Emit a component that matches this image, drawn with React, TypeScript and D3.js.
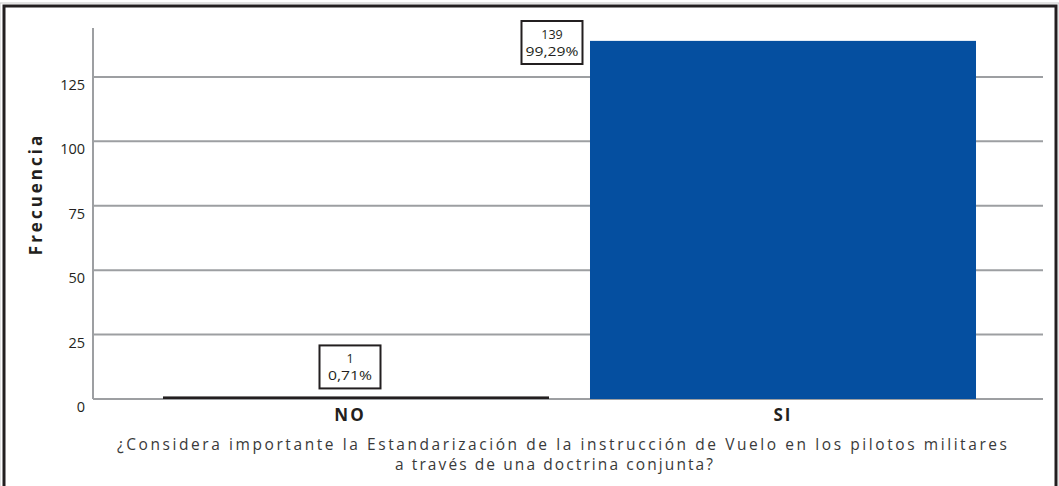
import React from "react";
import * as d3 from "d3";

const categories = ["NO", "SI"];
const counts = [1, 139];
const percents = ["0,71%", "99,29%"];
const yTicks = [0, 25, 50, 75, 100, 125];
const titleLines = [
  "¿Considera importante la Estandarización de la instrucción de Vuelo en los pilotos militares",
  "a través de una doctrina conjunta?",
];

const W = 1059;
const H = 486;
const plot = { left: 93, right: 1043, top: 28, bottom: 399 };
const textColor = "#231f20";
const gridColor = "#9d9fa2";
const barColors = ["#231f20", "#054fa0"];
const font = "'Open Sans', 'DejaVu Sans', sans-serif";

const App = () => {
  const x = d3
    .scaleBand<string>()
    .domain(categories)
    .range([142.5, 996.5])
    .paddingInner(0.096)
    .paddingOuter(0.048);

  const y = d3.scaleLinear().domain([0, 144]).range([plot.bottom, plot.top]);

  return (
    <svg
      width={W}
      height={H}
      style={{ position: "absolute", left: 0, top: 0, background: "#fff" }}
      fontFamily={font}
    >
      {/* frame */}
      <rect x={0} y={3} width={W} height={H} fill="none" stroke="#c8c8c8" strokeWidth={1} />
      <rect x={4} y={6} width={1052} height={H} fill="none" stroke={textColor} strokeWidth={3} />

      {/* gridlines */}
      {yTicks.map((t) => (
        <g key={t}>
          <line
            x1={plot.left}
            x2={plot.right}
            y1={y(t)}
            y2={y(t)}
            stroke={gridColor}
            strokeWidth={2}
          />
          <text
            x={85}
            y={y(t) + 13}
            textAnchor="end"
            fontSize={14.5}
            fill={textColor}
          >
            {t}
          </text>
        </g>
      ))}
      <line
        x1={plot.left}
        x2={plot.left}
        y1={plot.top}
        y2={plot.bottom}
        stroke={gridColor}
        strokeWidth={2}
      />

      {/* bars */}
      {categories.map((c, i) => (
        <rect
          key={c}
          x={x(c)}
          y={y(counts[i])}
          width={x.bandwidth()}
          height={plot.bottom - y(counts[i])}
          fill={barColors[i]}
        />
      ))}

      {/* value labels */}
      {categories.map((c, i) => {
        const bw = 61;
        const bh = 43;
        const cx = i === 0 ? x(c)! + x.bandwidth() / 2 - 6 : x(c)! - 38;
        const bottom = i === 0 ? y(counts[i]) - 8 : 64;
        return (
          <g key={c}>
            <rect
              x={cx - bw / 2}
              y={bottom - bh}
              width={bw}
              height={bh}
              fill="#fff"
              stroke={textColor}
              strokeWidth={2}
            />
            <text x={cx} y={bottom - 25} textAnchor="middle" fontSize={12.5} fill={textColor}>
              {counts[i]}
            </text>
            <text
              x={cx}
              y={bottom - 8}
              textAnchor="middle"
              fontSize={12.5}
              textLength={i === 0 ? 44 : 53}
              lengthAdjust="spacingAndGlyphs"
              fill={textColor}
            >
              {percents[i]}
            </text>
          </g>
        );
      })}

      {/* category labels */}
      {categories.map((c) => (
        <text
          key={c}
          x={x(c)! + x.bandwidth() / 2 - (c === "NO" ? 6 : 0)}
          y={421}
          textAnchor="middle"
          fontSize={17}
          fontWeight="bold"
          letterSpacing={2}
          fill={textColor}
        >
          {c}
        </text>
      ))}

      {/* axis title */}
      <text
        transform="translate(42,194) rotate(-90)"
        textAnchor="middle"
        fontSize={17}
        fontWeight="bold"
        letterSpacing={3}
        fill={textColor}
      >
        Frecuencia
      </text>

      {/* x title */}
      {titleLines.map((l, i) => (
        <text
          key={i}
          x={i === 0 ? 562 : 554}
          y={450 + i * 20}
          textAnchor="middle"
          fontSize={15.5}
          textLength={i === 0 ? 890 : 318}
          lengthAdjust="spacing"
          fill="#3a3a3a"
        >
          {l}
        </text>
      ))}
    </svg>
  );
};

export default App;
